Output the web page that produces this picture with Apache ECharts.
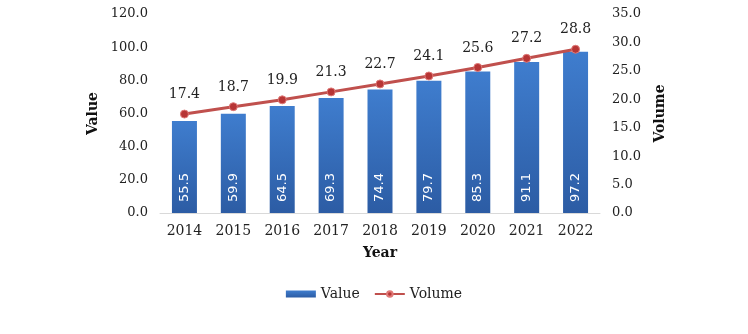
<!DOCTYPE html>
<html><head><meta charset="utf-8">
<script src="https://cdn.jsdelivr.net/npm/echarts@6/dist/echarts.min.js"></script>
<style>html,body{margin:0;padding:0;background:#fff}#c{width:748px;height:334px}</style>
</head><body><div id="c"></div>
<script>
const years = ['2014','2015','2016','2017','2018','2019','2020','2021','2022'];
const valueData = [55.5, 59.9, 64.5, 69.3, 74.4, 79.7, 85.3, 91.1, 97.2];
const volumeData = [17.4, 18.7, 19.9, 21.3, 22.7, 24.1, 25.6, 27.2, 28.8];
const serif = 'DejaVu Serif';
const chart = echarts.init(document.getElementById('c'));
chart.setOption({
  animation: false,
  grid: {left: 160, right: 148, top: 14, bottom: 121},
  legend: {
    bottom: 28, left: 'center', itemWidth: 30, itemHeight: 7, itemGap: 14,
    textStyle: {fontFamily: serif, fontSize: 14, color: '#222'},
    data: [{name: 'Value', icon: 'rect'}, {name: 'Volume'}]
  },
  xAxis: {
    type: 'category', data: years,
    name: 'Year', nameLocation: 'middle', nameGap: 33,
    nameTextStyle: {fontFamily: serif, fontWeight: 'bold', fontSize: 14, color: '#111'},
    axisLine: {lineStyle: {color: '#d9d9d9'}},
    axisTick: {show: false},
    axisLabel: {fontFamily: serif, fontSize: 14, color: '#222', margin: 11}
  },
  yAxis: [{
    type: 'value', min: 0, max: 120, interval: 20,
    name: 'Value', nameLocation: 'middle', nameGap: 53,
    nameTextStyle: {fontFamily: serif, fontWeight: 'bold', fontSize: 14, color: '#111'},
    splitLine: {show: false}, axisLine: {show: false}, axisTick: {show: false},
    axisLabel: {fontFamily: serif, fontSize: 13, color: '#222', margin: 12, formatter: v => v.toFixed(1)}
  }, {
    type: 'value', min: 0, max: 35, interval: 5,
    name: 'Volume', nameLocation: 'middle', nameGap: 53,
    nameTextStyle: {fontFamily: serif, fontWeight: 'bold', fontSize: 14, color: '#111'},
    splitLine: {show: false}, axisLine: {show: false}, axisTick: {show: false},
    axisLabel: {fontFamily: serif, fontSize: 13, color: '#222', margin: 12, formatter: v => v.toFixed(1)}
  }],
  series: [{
    name: 'Value', type: 'bar', data: valueData, barWidth: 25, yAxisIndex: 0,
    itemStyle: {color: new echarts.graphic.LinearGradient(0,0,0,1,[{offset:0,color:'#3f7dce'},{offset:1,color:'#2c5ca4'}])},
    label: {show: true, position: 'insideBottom', rotate: 90, distance: 11, align: 'left', verticalAlign: 'middle',
      color: '#fff', fontSize: 13, fontFamily: 'DejaVu Sans', formatter: p => p.value.toFixed(1)}
  }, {
    name: 'Volume', type: 'line', data: volumeData, yAxisIndex: 1,
    symbol: 'circle', symbolSize: 8,
    lineStyle: {color: '#c0504d', width: 3},
    itemStyle: {color: '#b73535', borderColor: '#e07a78', borderWidth: 1},
    label: {show: true, position: 'top', distance: 8, color: '#222', fontSize: 14, fontFamily: serif, formatter: p => p.value.toFixed(1)}
  }]
});
</script></body></html>
